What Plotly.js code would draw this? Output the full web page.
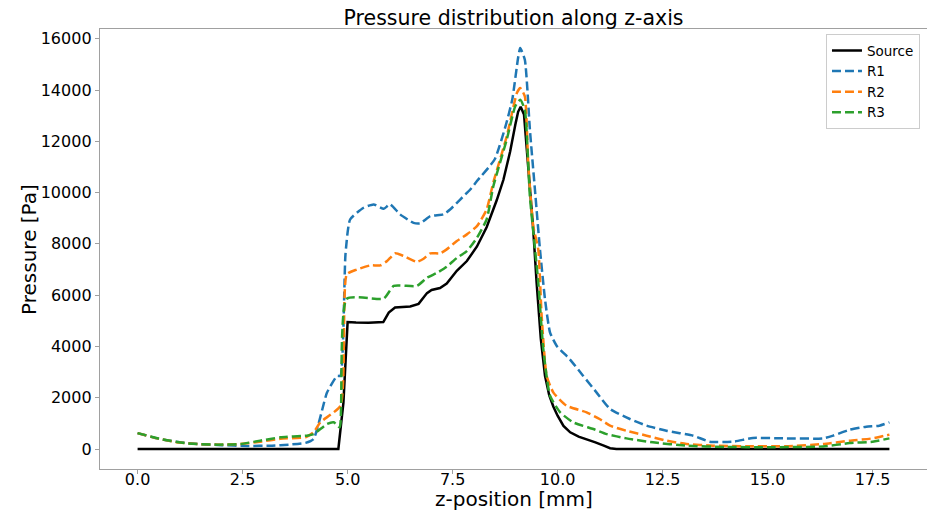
<!DOCTYPE html>
<html>
<head>
<meta charset="utf-8">
<script src="https://cdn.plot.ly/plotly-3.0.1.min.js"></script>
<style>html,body{margin:0;padding:0;background:#fff;}#chart{width:927px;height:510px;}</style>
</head>
<body>
<div id="chart"></div>
<script>
const seriesNames = ["Source", "R1", "R2", "R3"];

const sourceZ = [0, 4.78, 4.9, 5.0, 5.2, 5.5, 5.85, 5.98, 6.13, 6.49, 6.69, 6.89, 7.0, 7.2, 7.36, 7.6, 7.84, 8.08, 8.31, 8.55, 8.71, 8.87, 9.0, 9.06, 9.12, 9.2, 9.3, 9.42, 9.5, 9.6, 9.7, 9.8, 9.9, 10.0, 10.14, 10.3, 10.5, 10.7, 10.9, 11.1, 11.25, 11.4, 17.9];
const sourceP = [0, 0, 1800, 4950, 4930, 4920, 4950, 5320, 5520, 5560, 5660, 6080, 6200, 6280, 6450, 6950, 7330, 7900, 8650, 9700, 10500, 11600, 12700, 13150, 13350, 13050, 11000, 8550, 6500, 4300, 2850, 2100, 1650, 1300, 900, 650, 480, 380, 260, 130, 30, 0, 0];

const r1Z = [0, 0.5, 1.0, 1.5, 2.0, 2.6, 3.2, 3.6, 4.0, 4.19, 4.51, 4.75, 4.83, 4.95, 5.06, 5.38, 5.62, 5.86, 6.01, 6.25, 6.57, 6.73, 6.97, 7.28, 7.44, 7.68, 7.92, 8.08, 8.5, 8.75, 8.92, 9.06, 9.11, 9.22, 9.34, 9.46, 9.58, 9.7, 9.82, 9.98, 10.29, 10.61, 10.93, 11.25, 11.72, 12.12, 12.59, 13.23, 13.62, 14.18, 14.65, 15.37, 16.32, 16.56, 16.95, 17.35, 17.66, 17.9];
const r1P = [620, 400, 260, 190, 150, 120, 130, 170, 240, 390, 2200, 2850, 2850, 7600, 8950, 9410, 9540, 9370, 9540, 9150, 8820, 8800, 9080, 9150, 9340, 9730, 10120, 10450, 11290, 12530, 13620, 15260, 15640, 15180, 12460, 10120, 7785, 5840, 4540, 4020, 3500, 2850, 2200, 1560, 1170, 910, 710, 520, 285, 285, 430, 415, 415, 520, 750, 870, 910, 1040];

const r2Z = [0, 0.5, 1.0, 1.5, 2.0, 2.5, 2.92, 3.4, 4.0, 4.19, 4.35, 4.83, 4.98, 5.22, 5.54, 5.78, 5.94, 6.13, 6.33, 6.65, 6.81, 6.97, 7.2, 7.36, 7.6, 7.84, 8.08, 8.31, 8.47, 8.79, 9.03, 9.11, 9.22, 9.3, 9.42, 9.54, 9.62, 9.74, 9.9, 10.21, 10.69, 11.0, 11.25, 11.64, 12.12, 12.59, 13.07, 13.7, 14.5, 15.5, 16.32, 16.95, 17.5, 17.9];
const r2P = [620, 400, 250, 190, 170, 200, 285, 400, 460, 650, 1040, 1690, 6810, 7000, 7160, 7160, 7330, 7630, 7530, 7300, 7420, 7630, 7630, 7785, 8110, 8370, 8690, 9340, 10400, 12200, 13880, 14080, 13750, 11160, 8690, 7785, 5190, 2850, 2200, 1690, 1430, 1170, 910, 710, 520, 325, 195, 130, 110, 110, 195, 325, 415, 560];

const r3Z = [0, 0.55, 1.18, 1.89, 2.45, 2.92, 3.4, 4.03, 4.19, 4.51, 4.67, 4.81, 4.98, 5.86, 6.1, 6.65, 6.89, 7.13, 7.36, 7.6, 7.84, 8.08, 8.31, 8.47, 8.79, 8.99, 9.11, 9.22, 9.34, 9.54, 9.66, 9.82, 10.06, 10.37, 10.85, 11.17, 11.64, 12.27, 13.07, 14.0, 15.0, 16.32, 16.95, 17.5, 17.9];
const r3P = [620, 390, 220, 170, 195, 325, 455, 520, 580, 975, 1040, 845, 5860, 5870, 6360, 6360, 6680, 6870, 7110, 7450, 7720, 8240, 8950, 10250, 12070, 13360, 13620, 13230, 9860, 6490, 3890, 2075, 1430, 1040, 780, 580, 415, 260, 130, 80, 70, 100, 230, 285, 415];

const xTickVals = [0, 2.5, 5, 7.5, 10, 12.5, 15, 17.5];
const xTickText = ["0.0", "2.5", "5.0", "7.5", "10.0", "12.5", "15.0", "17.5"];
const yTickVals = [0, 2000, 4000, 6000, 8000, 10000, 12000, 14000, 16000];
const yTickText = ["0", "2000", "4000", "6000", "8000", "10000", "12000", "14000", "16000"];

const dashStyle = "9px,4px";
const traces = [
  {x: sourceZ, y: sourceP, name: seriesNames[0], mode: "lines", line: {color: "#000000", width: 2.5}},
  {x: r1Z, y: r1P, name: seriesNames[1], mode: "lines", line: {color: "#1f77b4", width: 2.5, dash: dashStyle, shape: "spline", smoothing: 0.5}},
  {x: r2Z, y: r2P, name: seriesNames[2], mode: "lines", line: {color: "#ff7f0e", width: 2.5, dash: dashStyle, shape: "spline", smoothing: 0.5}},
  {x: r3Z, y: r3P, name: seriesNames[3], mode: "lines", line: {color: "#2ca02c", width: 2.5, dash: dashStyle, shape: "spline", smoothing: 0.5}}
];

const font = "DejaVu Sans, sans-serif";
const layout = {
  width: 927, height: 510,
  margin: {l: 100, r: 0, t: 29, b: 41, pad: 0},
  paper_bgcolor: "#ffffff", plot_bgcolor: "#ffffff",
  font: {family: font, color: "#000000", size: 16},
  title: {text: "Pressure distribution along z-axis", font: {family: font, size: 20.5}, x: 0.554, xanchor: "center", y: 0.965, yanchor: "middle"},
  showlegend: true,
  legend: {x: 0.9915, xanchor: "right", y: 0.988, yanchor: "top", bgcolor: "rgba(255,255,255,0.9)", bordercolor: "#cccccc", borderwidth: 1, font: {family: font, size: 13.5}, tracegroupgap: 0},
  xaxis: {
    range: [-0.895, 18.795], tickvals: xTickVals, ticktext: xTickText,
    showgrid: false, zeroline: false, showline: true, linecolor: "#a0a0a0", linewidth: 1.2, mirror: true,
    ticks: "outside", ticklen: 4, tickcolor: "#a0a0a0", tickfont: {size: 16, family: font},
    ticklabelstandoff: -8
  },
  yaxis: {
    range: [-780, 16380], tickvals: yTickVals, ticktext: yTickText,
    showgrid: false, zeroline: false, showline: true, linecolor: "#a0a0a0", linewidth: 1.2,
    ticks: "outside", ticklen: 4, tickcolor: "#a0a0a0", tickfont: {size: 16, family: font}
  },
  annotations: [
    {text: "Pressure [Pa]", xref: "paper", yref: "paper", x: -0.0859, y: 0.5, xanchor: "center", yanchor: "middle", textangle: -90, showarrow: false, font: {size: 20, family: font, color: "#000000"}},
    {text: "z-position [mm]", xref: "paper", yref: "paper", x: 0.5, y: -0.0693, xanchor: "center", yanchor: "middle", showarrow: false, font: {size: 20, family: font, color: "#000000"}}
  ]
};

Plotly.newPlot("chart", traces, layout, {staticPlot: true, displayModeBar: false});
</script>
</body>
</html>
